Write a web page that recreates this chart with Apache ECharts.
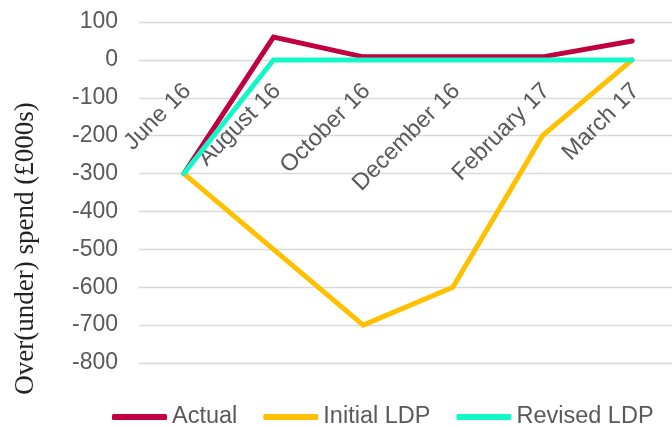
<!DOCTYPE html>
<html>
<head>
<meta charset="utf-8">
<script src="https://cdn.jsdelivr.net/npm/echarts@6/dist/echarts.min.js"></script>
<style>html,body{margin:0;padding:0;background:#fff}#c{width:672px;height:426px}</style>
</head>
<body>
<div id="c"></div>
<script>
var categories = ['June 16', 'August 16', 'October 16', 'December 16', 'February 17', 'March 17'];
var actual = [-300, 60, 8, 8, 8, 50];
var initialLDP = [-300, -500, -700, -600, -200, 0];
var revisedLDP = [-300, 0, 0, 0, 0, 0];
var seriesNames = ['Actual', 'Initial LDP', 'Revised LDP'];
var yTicks = {min: -800, max: 100, interval: 100};

var colors = ['#C00040', '#FFC000', '#14F7C6'];
var H = 426, gridTop = 22, gridBottom = 63;
var plotH = H - gridTop - gridBottom;
// place category axis where the value axis crosses zero
var zeroOffset = -((0 - yTicks.min) / (yTicks.max - yTicks.min)) * plotH;

var chart = echarts.init(document.getElementById('c'), null, {renderer: 'canvas'});
function mk(name, data, color) {
  return {
    name: name, type: 'line', data: data, symbol: 'none', showSymbol: false,
    lineStyle: {color: color, width: 5, cap: 'round', join: 'miter'},
    itemStyle: {color: color},
    emphasis: {disabled: true}, animation: false
  };
}
chart.setOption({
  animation: false,
  grid: {left: 139, right: -5, top: gridTop, bottom: gridBottom, containLabel: false, outerBoundsMode: 'none'},
  legend: {
    top: 400, left: 107, itemWidth: 55, itemHeight: 6, itemGap: 26, icon: 'roundRect',
    textStyle: {color: '#595959', fontSize: 23.5, fontFamily: 'Liberation Sans, Arial, sans-serif'},
    data: seriesNames
  },
  xAxis: {
    type: 'category', data: categories, boundaryGap: true, position: 'bottom', offset: zeroOffset,
    axisLine: {show: false, onZero: false}, axisTick: {show: false},
    axisLabel: {rotate: 45, margin: 14, verticalAlign: 'top', padding: [0, 7, 0, 0], color: '#595959', fontSize: 23.5,
      fontFamily: 'Liberation Sans, Arial, sans-serif', interval: 0, hideOverlap: false},
    splitLine: {show: false}
  },
  yAxis: {
    type: 'value', min: yTicks.min, max: yTicks.max, interval: yTicks.interval,
    axisLine: {show: false}, axisTick: {show: false},
    axisLabel: {color: '#595959', fontSize: 23, margin: 21, fontFamily: 'Liberation Sans, Arial, sans-serif'},
    splitLine: {lineStyle: {color: '#D9D9D9', width: 1.3}},
    name: 'Over(under) spend (£000s)', nameLocation: 'middle', nameRotate: 90, nameGap: 100,
    nameTextStyle: {color: '#222', fontSize: 27, fontFamily: 'Liberation Serif, DejaVu Serif, serif', padding: [0, 112, 0, 0]}
  },
  series: [mk(seriesNames[0], actual, colors[0]), mk(seriesNames[1], initialLDP, colors[1]), mk(seriesNames[2], revisedLDP, colors[2])]
});
</script>
</body>
</html>
